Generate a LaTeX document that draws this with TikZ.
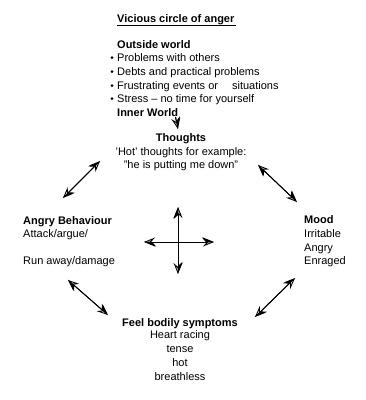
\documentclass[tikz,border=0pt]{standalone}
\usepackage{fontspec}
\setmainfont{Liberation Sans}
\usetikzlibrary{arrows.meta}
\begin{document}
\begin{tikzpicture}[x=1pt,y=-1pt,
  txt/.style={font=\fontsize{11}{13.5}\selectfont, inner sep=0pt, anchor=base west},
  ctxt/.style={font=\fontsize{11}{13.5}\selectfont, inner sep=0pt, anchor=base},
  hd/.style={font=\fontsize{11}{13.5}\selectfont\bfseries, inner sep=0pt},
  bul/.style={circle, fill=black, inner sep=0pt, minimum size=3pt},
  arr/.style={line width=0.9pt, {Stealth[length=11pt,width=9pt,inset=4pt,open]}-{Stealth[length=11pt,width=9pt,inset=4pt,open]}},
  arrh/.style={line width=0.9pt, {Stealth[harpoon,length=11pt,width=9pt,inset=4pt]}-{Stealth[harpoon,length=11pt,width=9pt,inset=4pt]}},
  onearr/.style={line width=0.9pt, -{Stealth[length=11pt,width=9pt,inset=4pt,open]}},
  onearrh/.style={line width=0.9pt, -{Stealth[harpoon,length=11pt,width=9pt,inset=4pt]}}
]
\useasboundingbox (0,0) rectangle (366,400);
\fill[white] (0,0) rectangle (366,400);

% title
\node[hd, anchor=base west] (title) at (117,22) {Vicious circle of anger};
\coordinate (ulA) at (117,25);
\coordinate (ulB) at (236,25);
\draw[line width=0.9pt] (ulA) -- (ulB);

% outside world
\node[hd, anchor=base west] (outside) at (117,48) {Outside world};
\node[txt] (p1) at (117,61) {Problems with others};
\node[txt] (p2) at (117,75) {Debts and practical problems};
\node[txt] (p3) at (117,89) {Frustrating events or\hspace{14pt}situations};
\node[txt] (p4) at (117,102) {Stress -- no time for yourself};
\node[bul] (b1) at (112,57.5) {};
\node[bul] (b2) at (112,71.5) {};
\node[bul] (b3) at (112,85.5) {};
\node[bul] (b4) at (112,98.5) {};
\node[hd, anchor=base west] (inner) at (117,116) {Inner World};

% inner -> thoughts arrowhead
\coordinate (inA) at (175.5,117);
\coordinate (inB) at (178,129);
\draw[onearr] (inA) -- (inB);
\draw[onearrh] (inA) -- (inB);

% thoughts
\node[hd, anchor=base] (thoughts) at (181,141) {Thoughts};
\node[ctxt] (hot) at (181,155) {'Hot' thoughts for example:};
\node[ctxt] (quote) at (181,168) {"he is putting me down"};

% angry behaviour
\node[hd, anchor=base west] (angry) at (23,224) {Angry Behaviour};
\node[txt] (attack) at (23,237) {Attack/argue/};
\node[txt] (run) at (23,264) {Run away/damage};

% mood
\node[hd, anchor=base west] (mood) at (304,223) {Mood};
\node[txt] (irr) at (304,237) {Irritable};
\node[txt] (ang) at (304,251) {Angry};
\node[txt] (enr) at (304,264) {Enraged};

% bodily
\node[hd, anchor=base] (feel) at (180,326) {Feel bodily symptoms};
\node[ctxt] (heart) at (180,338) {Heart racing};
\node[ctxt] (tense) at (180,352) {tense};
\node[ctxt] (hotb) at (180,366) {hot};
\node[ctxt] (breath) at (180,380) {breathless};

% diagonal arrows
\coordinate (tlA) at (100,161);
\coordinate (tlB) at (63,198);
\coordinate (trA) at (258,165);
\coordinate (trB) at (297,202);
\coordinate (blA) at (68,280);
\coordinate (blB) at (108,315);
\coordinate (brA) at (295,278);
\coordinate (brB) at (255,317);
\foreach \s in {arr,arrh}{
  \draw[\s] (tlA) -- (tlB);
  \draw[\s] (trA) -- (trB);
  \draw[\s] (blA) -- (blB);
  \draw[\s] (brA) -- (brB);
}

% central cross
\coordinate (cT) at (178,207);
\coordinate (cB) at (178,274);
\coordinate (cL) at (144,242);
\coordinate (cR) at (214,242);
\foreach \s in {arr,arrh}{
  \draw[\s] (cT) -- (cB);
  \draw[\s] (cL) -- (cR);
}
\end{tikzpicture}
\end{document}
